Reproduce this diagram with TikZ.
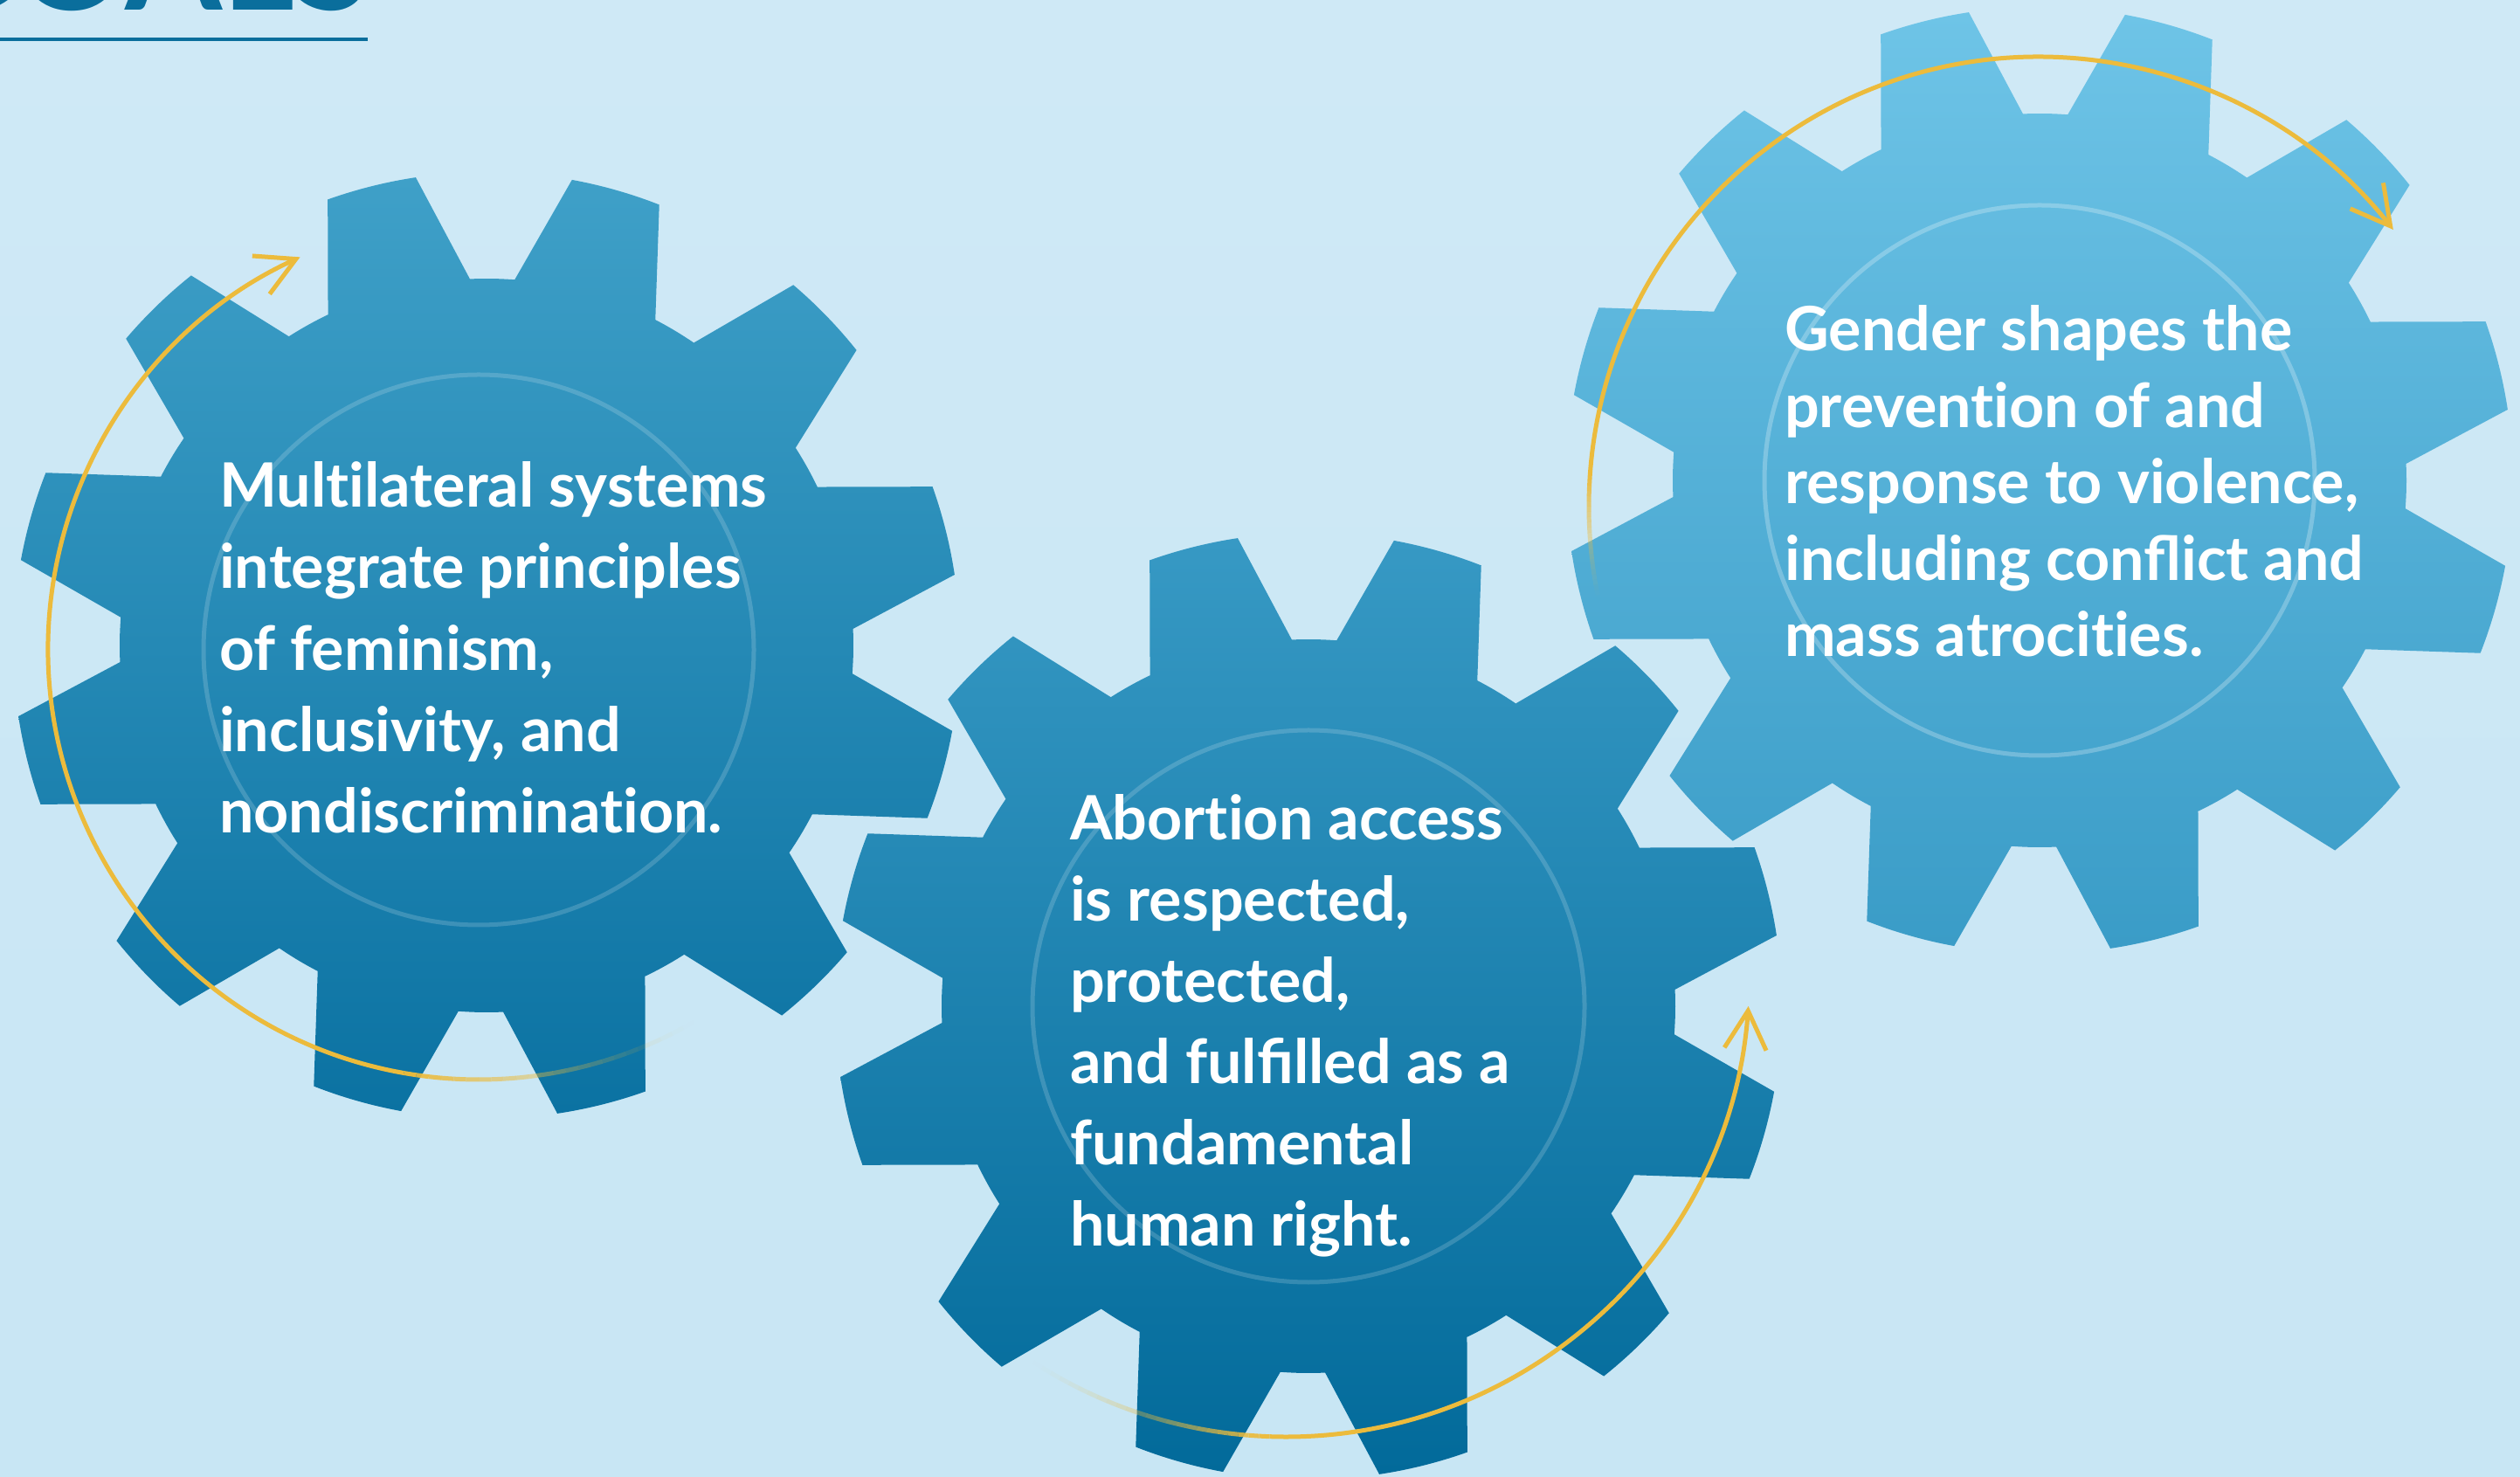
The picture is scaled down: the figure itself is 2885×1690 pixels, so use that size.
\documentclass[tikz,border=0pt]{standalone}
\usepackage{fontspec}
\setmainfont{Lato}
\usetikzlibrary{arrows.meta}
\definecolor{bgtop}{HTML}{CFE9F6}
\definecolor{bgbot}{HTML}{C8E6F4}
\definecolor{gAtop}{HTML}{3FA0C8}
\definecolor{gAbot}{HTML}{0B72A2}
\definecolor{gBtop}{HTML}{3799C4}
\definecolor{gBbot}{HTML}{026A9A}
\definecolor{gCtop}{HTML}{6EC4E7}
\definecolor{gCbot}{HTML}{3A9CC7}
\definecolor{arrowyellow}{HTML}{ECBB3C}
\definecolor{titleblue}{HTML}{0A6E9C}
\newcommand\tiNoLig{t\kern0pt i}
\begin{document}
\begin{tikzpicture}[x=1pt,y=1pt,
  ring/.style={draw=white, draw opacity=0.17, line width=5pt},
  gtext/.style={text=white, anchor=base west, align=left, inner sep=0pt, font=\bfseries\fontsize{70}{93.4}\selectfont},
  yarc/.style={draw=arrowyellow, line width=5pt, line cap=butt},
  yhead/.style={-{Straight Barb[length=44pt,width=48pt]}},
]
\useasboundingbox (0,0) rectangle (2885,1690);
\clip (0,0) rectangle (2885,1690);
\shade[bottom color=bgbot, top color=bgtop] (0,0) rectangle (2885,1690);

% title remnant
\node[anchor=base west, inner sep=0pt, text=titleblue, font=\bfseries\fontsize{160}{160}\selectfont] (title) at (-99,1678) {GOALS};
\coordinate (ulA) at (0,1645);
\coordinate (ulB) at (421,1645);
\draw[titleblue, line width=4.7pt] (ulA) -- (ulB);

% gear 1
\shade[top color=gAtop, bottom color=gAbot, shift={(557,951)}]
  (8.6:542pt) \foreach \k in {0,...,11}{
   arc[start angle={8.6+30*\k}, end angle={19.6+30*\k}, radius=542pt]
   -- ({25.6+30*\k}:420pt)
   arc[start angle={25.6+30*\k}, end angle={32.6+30*\k}, radius=420pt]
   -- ({38.6+30*\k}:542pt)
  } -- cycle;
\draw[ring] (548,946) circle[radius=315pt];

% gear 3
\shade[top color=gCtop, bottom color=gCbot, shift={(2335,1140)}]
  (8.6:542pt) \foreach \k in {0,...,11}{
   arc[start angle={8.6+30*\k}, end angle={19.6+30*\k}, radius=542pt]
   -- ({25.6+30*\k}:420pt)
   arc[start angle={25.6+30*\k}, end angle={32.6+30*\k}, radius=420pt]
   -- ({38.6+30*\k}:542pt)
  } -- cycle;
\draw[ring, draw opacity=0.25] (2335,1140) circle[radius=315pt];

% gear 2
\shade[top color=gBtop, bottom color=gBbot, shift={(1498,538)}]
  (8.6:542pt) \foreach \k in {0,...,11}{
   arc[start angle={8.6+30*\k}, end angle={19.6+30*\k}, radius=542pt]
   -- ({25.6+30*\k}:420pt)
   arc[start angle={25.6+30*\k}, end angle={32.6+30*\k}, radius=420pt]
   -- ({38.6+30*\k}:542pt)
  } -- cycle;
\draw[ring] (1498,538) circle[radius=316pt];

% arrows: fading tails
\foreach \i [evaluate=\i as \op using ((\i+0.5)/24)^1.4,
             evaluate=\i as \sa using -60-40*\i/24,
             evaluate=\i as \ea using -60-40*(\i+1)/24] in {0,...,23}{
  \draw[yarc, draw opacity=\op, shift={(548,947)}] (\sa:493pt) arc[start angle=\sa, end angle=\ea, radius=493pt];
}
\draw[yarc, yhead, shift={(548,947)}] (-100:493pt) arc[start angle=-100, end angle=-245.5, radius=493pt];

\foreach \i [evaluate=\i as \op using ((\i+0.5)/24)^1.4,
             evaluate=\i as \sa using 237+31*\i/24,
             evaluate=\i as \ea using 237+31*(\i+1)/24] in {0,...,23}{
  \draw[yarc, draw opacity=\op, shift={(1472,576)}] (\sa:531pt) arc[start angle=\sa, end angle=\ea, radius=531pt];
}
\draw[yarc, yhead, shift={(1472,576)}] (268:531pt) arc[start angle=268, end angle=355.9, radius=531pt];

\foreach \i [evaluate=\i as \op using ((\i+0.5)/24)^1.4,
             evaluate=\i as \sa using 192-16*\i/24,
             evaluate=\i as \ea using 192-16*(\i+1)/24] in {0,...,23}{
  \draw[yarc, draw opacity=\op, shift={(2334,1110)}] (\sa:515pt) arc[start angle=\sa, end angle=\ea, radius=515pt];
}
\draw[yarc, yhead, shift={(2334,1110)}] (176:515pt) arc[start angle=176, end angle=38, radius=515pt];

% texts (anchor = baseline of last line)
\node[gtext] (t1) at (251,736) {Mul\tiNoLig lateral systems\\integrate principles\\of feminism,\\inclusivity, and\\nondiscrimina\tiNoLig on.};
\node[gtext, font=\bfseries\fontsize{70}{93.0}\selectfont] (t2) at (1225,264) {Abor\tiNoLig on access\\is respected,\\protected,\\and fulfilled as a\\fundamental\\human right.};
\node[gtext, font=\bfseries\fontsize{70}{87.5}\selectfont] (t3) at (2043,938) {Gender shapes the\\preven\tiNoLig on of and\\response to violence,\\including conflict and\\mass atroci\tiNoLig es.};
\end{tikzpicture}
\end{document}
